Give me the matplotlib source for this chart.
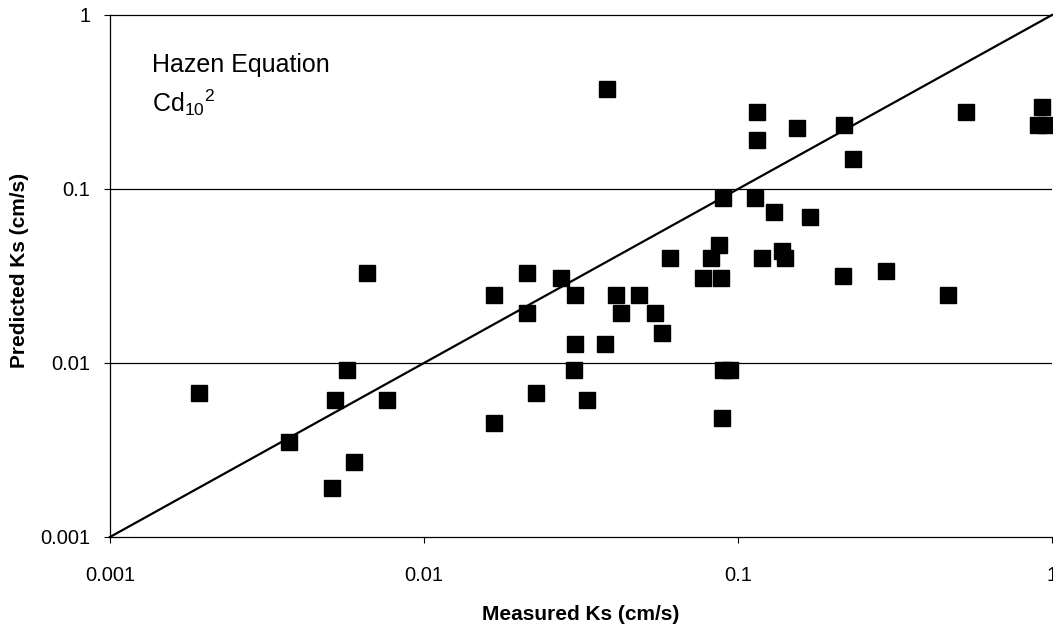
# Hazen equation: predicted vs measured Ks, log-log scatter with 1:1 line

import numpy as np
import matplotlib.pyplot as plt

plt.rcParams['font.family'] = ['Liberation Sans', 'DejaVu Sans']
plt.rcParams['mathtext.fontset'] = 'custom'
plt.rcParams['mathtext.rm'] = 'Liberation Sans'
plt.rcParams['mathtext.it'] = 'Liberation Sans:italic'

# measured Ks (cm/s)
measured = [0.00192, 0.00372, 0.0051, 0.0052, 0.0057, 0.0060, 0.0066, 0.0076,
            0.0167, 0.0167, 0.0213, 0.0213, 0.0227, 0.0273, 0.0303, 0.0303,
            0.0301, 0.0330, 0.0377, 0.0383, 0.0409, 0.0424, 0.0484, 0.0544,
            0.0573, 0.0607, 0.0774, 0.0820, 0.0870, 0.0883, 0.0896, 0.0896,
            0.0943, 0.0890, 0.1133, 0.115, 0.115, 0.1193, 0.130, 0.138,
            0.141, 0.154, 0.1695, 0.216, 0.2175, 0.232, 0.296, 0.4665,
            0.532, 0.929, 0.902, 0.957]
# predicted Ks (cm/s)
predicted = [0.0067, 0.0035, 0.0019, 0.0061, 0.0091, 0.0027, 0.033, 0.0061,
             0.0246, 0.0045, 0.033, 0.0194, 0.0067, 0.0308, 0.0246, 0.0129,
             0.0091, 0.0061, 0.0129, 0.376, 0.0246, 0.0194, 0.0246, 0.0194,
             0.0149, 0.0401, 0.0308, 0.0401, 0.0477, 0.0308, 0.0888, 0.0091,
             0.0091, 0.0048, 0.0888, 0.277, 0.191, 0.0401, 0.0738, 0.044,
             0.0401, 0.224, 0.069, 0.0316, 0.233, 0.149, 0.0338, 0.0246,
             0.277, 0.296, 0.233, 0.233]

one_to_one = [0.001, 1]
tick_vals = [0.001, 0.01, 0.1, 1]
tick_labels = ['0.001', '0.01', '0.1', '1']

fig = plt.figure(figsize=(10.53, 6.27), dpi=100)
ax = fig.add_axes([110/1053, 1 - 537/627, 942/1053, 522/627])

ax.set_xscale('log')
ax.set_yscale('log')
ax.set_xlim(0.001, 1)
ax.set_ylim(0.001, 1)

# horizontal gridlines at the decades
for yv in tick_vals[1:3]:
    ax.axhline(yv, color='black', lw=0.9, zorder=1)

ax.plot(one_to_one, one_to_one, color='black', lw=1.6, zorder=2, clip_on=False)
ax.plot(measured, predicted, linestyle='none', marker='s', ms=11.5,
        color='black', mec='black', zorder=3, clip_on=False)

ax.set_xticks(tick_vals)
ax.set_xticklabels(tick_labels)
ax.set_yticks(tick_vals)
ax.set_yticklabels(tick_labels)
ax.minorticks_off()
ax.tick_params(axis='x', direction='out', length=4, width=0.8, pad=17, labelsize=14.5)
ax.tick_params(axis='y', direction='out', length=4, width=0.8, pad=10, labelsize=14.5)

for side in ['left', 'bottom', 'top']:
    ax.spines[side].set_linewidth(0.9)
ax.spines['right'].set_visible(False)

ax.set_xlabel('Measured Ks (cm/s)', fontsize=15, fontweight='bold')
ax.set_ylabel('Predicted Ks (cm/s)', fontsize=15, fontweight='bold')
ax.xaxis.set_label_coords(0.5, -0.131)
ax.yaxis.set_label_coords(-0.086, 0.51)

ax.text(0.0446, 0.891, 'Hazen Equation', transform=ax.transAxes,
        fontsize=18, va='baseline', ha='left')
ax.text(0.0446, 0.814, r'Cd$_{10}$$^{2}$', transform=ax.transAxes,
        fontsize=18, va='baseline', ha='left')

plt.savefig('out.png', dpi=100)
